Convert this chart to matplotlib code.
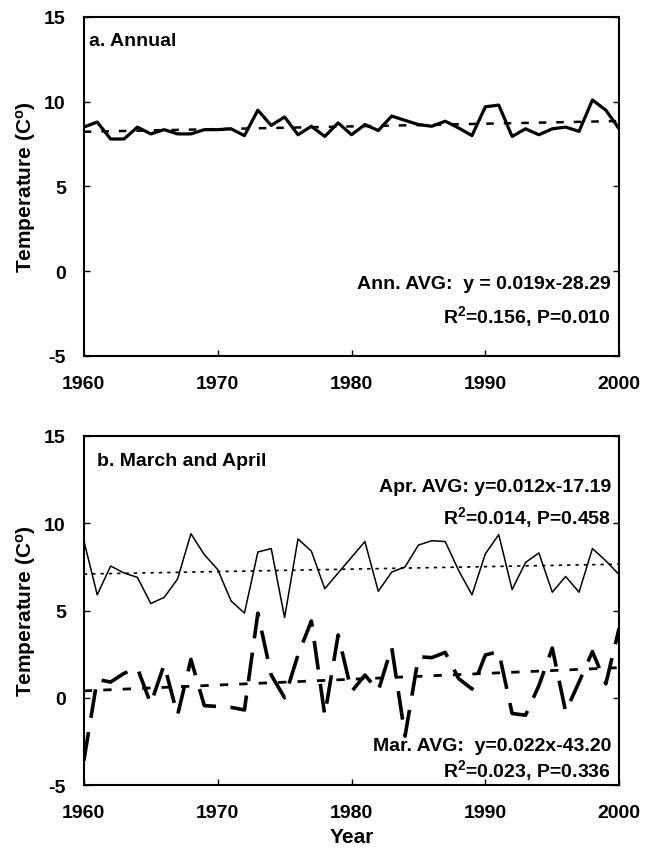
import numpy as np
import matplotlib
matplotlib.use('Agg')
from matplotlib import pyplot as plt

plt.rcParams['font.family'] = ['Liberation Sans', 'DejaVu Sans']
plt.rcParams['font.weight'] = 'bold'
plt.rcParams['axes.labelweight'] = 'bold'
plt.rcParams['axes.unicode_minus'] = False
plt.rcParams['mathtext.fontset'] = 'custom'
plt.rcParams['mathtext.rm'] = 'Liberation Sans:bold'
plt.rcParams['mathtext.default'] = 'rm'

# data
years = np.arange(1960, 2001)
annual = [8.5, 8.8, 7.8, 7.8, 8.5, 8.1, 8.35, 8.1, 8.1, 8.35,
          8.35, 8.4, 8.0, 9.5, 8.6, 9.1, 8.05, 8.55, 7.95, 8.75,
          8.05, 8.65, 8.3, 9.15, 8.9, 8.65, 8.55, 8.85, 8.45, 8.0,
          9.7, 9.8, 7.95, 8.4, 8.05, 8.4, 8.5, 8.25, 10.1, 9.5, 8.4]
april = [9.0, 5.9, 7.55, 7.15, 6.9, 5.4, 5.75, 6.8, 9.4, 8.2,
         7.35, 5.55, 4.85, 8.35, 8.55, 4.6, 9.1, 8.4, 6.25, 7.15,
         8.05, 8.95, 6.1, 7.2, 7.5, 8.75, 9.0, 8.95, 7.3, 5.9,
         8.25, 9.35, 6.2, 7.75, 8.3, 6.05, 6.95, 6.05, 8.55, 7.85, 7.05]
march = [-3.6, 1.05, 0.9, 1.4, 1.7, -0.35, 1.9, -1.0, 2.2, -0.45,
         -0.5, -0.55, -0.7, 4.85, 1.3, 0.0, 2.45, 4.4, -1.0, 3.6,
         0.35, 1.3, 0.4, 2.9, -2.2, 2.35, 2.3, 2.6, 1.1, 0.5,
         2.45, 2.65, -0.9, -1.0, 0.7, 2.85, -0.8, 0.9, 2.65, 0.8, 4.0]

ann_txt = ['Ann. AVG:  y = 0.019x-28.29', r'R$^2$=0.156, P=0.010']
apr_txt = ['Apr. AVG: y=0.012x-17.19', r'R$^2$=0.014, P=0.458']
mar_txt = ['Mar. AVG:  y=0.022x-43.20', r'R$^2$=0.023, P=0.336']

xticks = [1960, 1970, 1980, 1990, 2000]
yticks = [-5, 0, 5, 10, 15]


def trend(y):
    k, b = np.polyfit(years, y, 1)
    return k * years + b


def style(ax):
    ax.set_xlim(1960, 2000)
    ax.set_ylim(-5, 15)
    ax.set_xticks(xticks)
    ax.set_yticks(yticks)
    ax.tick_params(direction='in', length=4, width=1, labelsize=14,
                   right=True)
    ax.tick_params(axis='y', pad=13)
    ax.tick_params(axis='x', pad=14)
    for s in ax.spines.values():
        s.set_linewidth(1.5)
    ax.set_ylabel(r'Temperature (C$^{\rm o}$)', fontsize=15, labelpad=4)


fig = plt.figure(figsize=(6.45, 8.54), dpi=100)

# panel a
ax1 = fig.add_axes([0.130, 0.582, 0.830, 0.397])
ax1.plot(years, annual, color='black', lw=2.3)
ax1.plot(years, trend(annual), color='black', lw=1.8, dashes=(3, 4))
style(ax1)
ax1.text(0.01, 0.93, 'a. Annual', transform=ax1.transAxes, fontsize=14,
         va='center')
ax1.text(0.985, 0.215, ann_txt[0], transform=ax1.transAxes, fontsize=14,
         ha='right', va='center')
ax1.text(0.985, 0.12, ann_txt[1], transform=ax1.transAxes, fontsize=14,
         ha='right', va='center')

# panel b
ax2 = fig.add_axes([0.130, 0.0796, 0.830, 0.4087])
ax2.plot(years, april, color='black', lw=1.1)
ax2.plot(years, trend(april), color='black', lw=1.2, dashes=(2, 3))
ax2.plot(years, march, color='black', lw=2.6, dashes=(8, 4))
ax2.plot(years, trend(march), color='black', lw=2.0, dashes=(3, 4))
style(ax2)
ax2.set_xlabel('Year', fontsize=15, labelpad=4)
ax2.text(0.025, 0.93, 'b. March and April', transform=ax2.transAxes,
         fontsize=14, va='center')
ax2.text(0.985, 0.855, apr_txt[0], transform=ax2.transAxes, fontsize=14,
         ha='right', va='center')
ax2.text(0.985, 0.77, apr_txt[1], transform=ax2.transAxes, fontsize=14,
         ha='right', va='center')
ax2.text(0.985, 0.113, mar_txt[0], transform=ax2.transAxes, fontsize=14,
         ha='right', va='center')
ax2.text(0.985, 0.045, mar_txt[1], transform=ax2.transAxes, fontsize=14,
         ha='right', va='center')

plt.savefig('out.png', dpi=100)
